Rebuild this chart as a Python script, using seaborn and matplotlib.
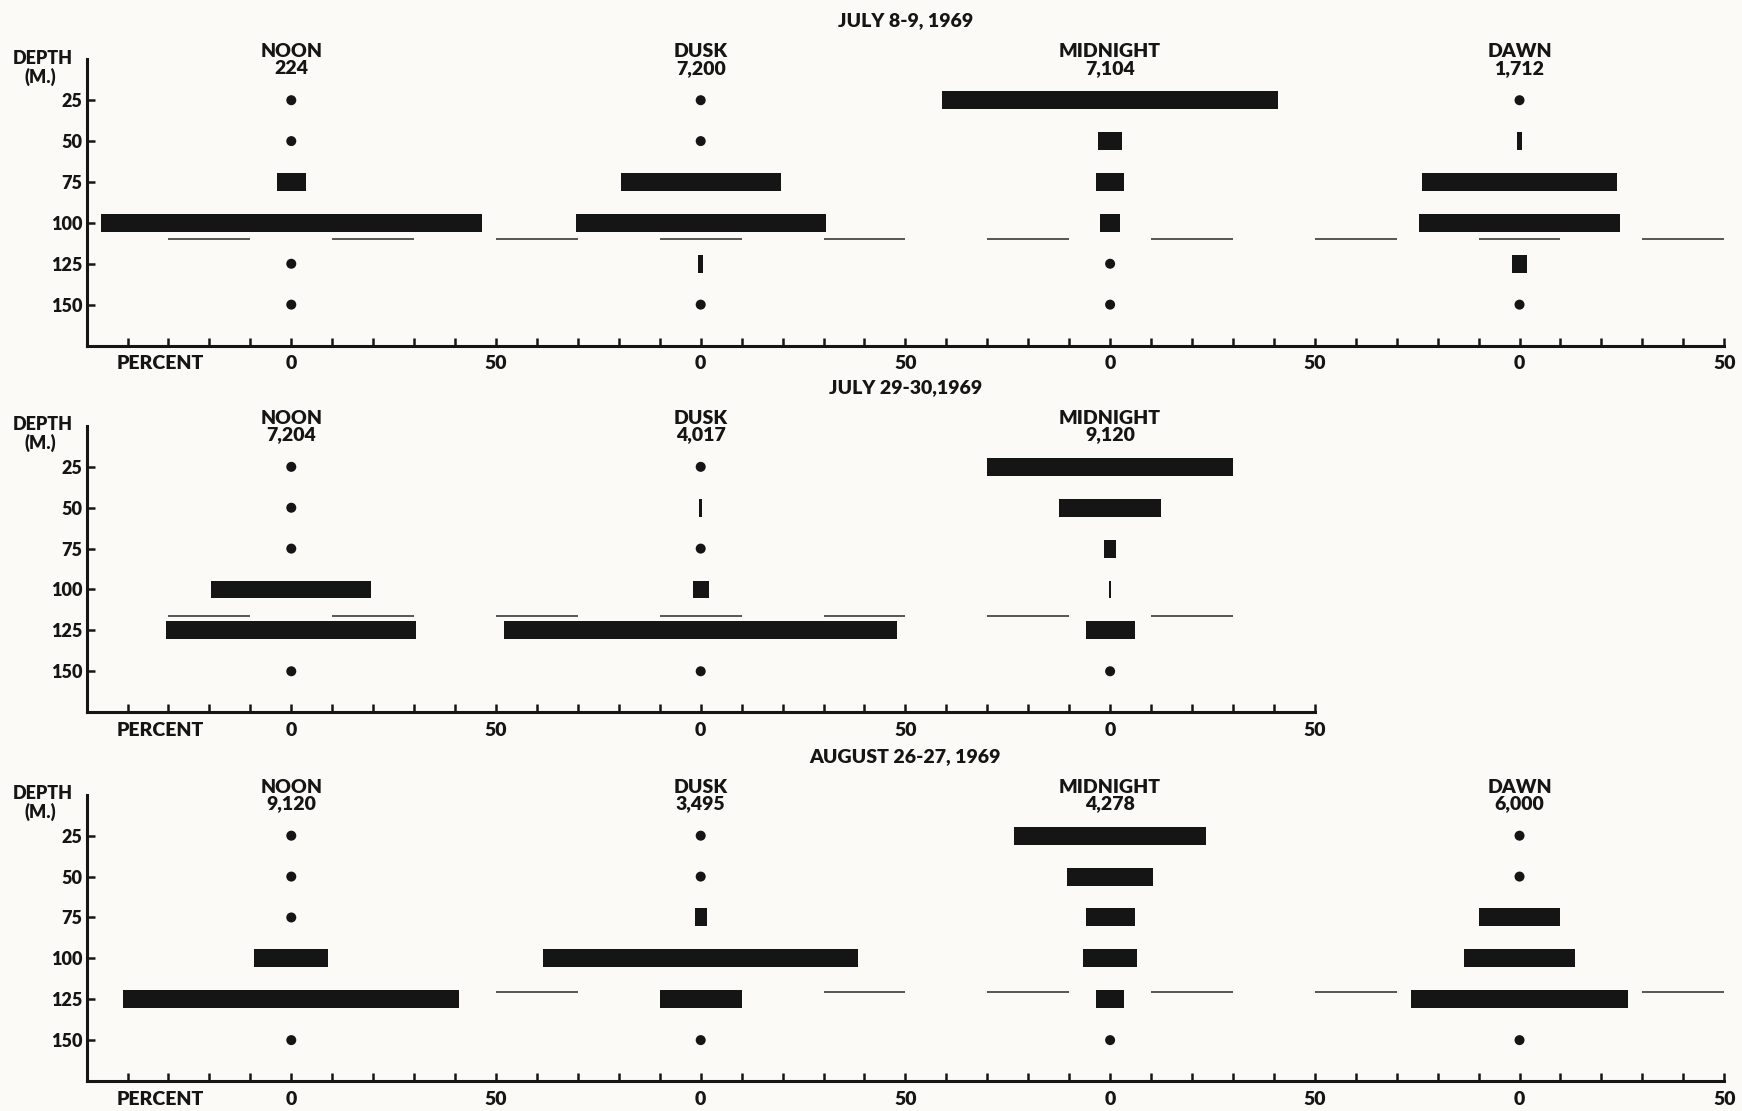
import numpy as np
import pandas as pd
import matplotlib
matplotlib.use("Agg")
import matplotlib.pyplot as plt
import seaborn as sns

# ---------------- data ----------------
depths = [25, 50, 75, 100, 125, 150]

dates = ["JULY 8-9, 1969", "JULY 29-30,1969", "AUGUST 26-27, 1969"]

jul8_periods = ["NOON", "DUSK", "MIDNIGHT", "DAWN"]
jul8_counts = ["224", "7,200", "7,104", "1,712"]
jul8_noon = [0, 0, 7, 93, 0, 0]
jul8_dusk = [0, 0, 39, 61, 1.3, 0]
jul8_midnight = [82, 6, 7, 5, 0, 0]
jul8_dawn = [0, 1.2, 47.5, 49, 3.5, 0]

jul29_periods = ["NOON", "DUSK", "MIDNIGHT"]
jul29_counts = ["7,204", "4,017", "9,120"]
jul29_noon = [0, 0, 0, 39, 61, 0]
jul29_dusk = [0, 0.6, 0, 4, 96, 0]
jul29_midnight = [60, 25, 3, 0.6, 12, 0]

aug26_periods = ["NOON", "DUSK", "MIDNIGHT", "DAWN"]
aug26_counts = ["9,120", "3,495", "4,278", "6,000"]
aug26_noon = [0, 0, 0, 18, 82, 0]
aug26_dusk = [0, 0, 3, 77, 20, 0]
aug26_midnight = [47, 21, 12, 13, 7, 0]
aug26_dawn = [0, 0, 20, 27, 53, 0]

thermocline_depth = [110, 116, 120.5]

panels = [
    (dates[0], jul8_periods, jul8_counts, [jul8_noon, jul8_dusk, jul8_midnight, jul8_dawn], thermocline_depth[0]),
    (dates[1], jul29_periods, jul29_counts, [jul29_noon, jul29_dusk, jul29_midnight], thermocline_depth[1]),
    (dates[2], aug26_periods, aug26_counts, [aug26_noon, aug26_dusk, aug26_midnight, aug26_dawn], thermocline_depth[2]),
]

# ---------------- style ----------------
PAPER = "#fbfaf6"
INK = "#151515"

sns.set_theme(style="ticks")
plt.rcParams["font.family"] = ["Lato", "DejaVu Sans"]
plt.rcParams["font.weight"] = "heavy"

fig = plt.figure(figsize=(17.42, 11.11), dpi=100, facecolor=PAPER)

left = 0.0497
full_w = 0.9401
height = 0.2576
bottoms = [0.689, 0.359, 0.027]

for (date, periods, counts, values, thermo), bottom in zip(panels, bottoms):
    n = len(periods)
    xmax = 100 * n
    ax = fig.add_axes([left, bottom, full_w * n / 4, height])
    ax.set_facecolor(PAPER)
    ax.set_xlim(0, xmax)
    ax.set_ylim(175, 0)

    # thermocline dashed marker (dash 20 on / 20 off)
    starts = np.arange(20, xmax, 40)
    ax.hlines([thermo] * len(starts), starts, starts + 20, color="#2a2a2a", lw=1.1, zorder=1)

    zero_rows = []
    for i, (name, count, vals) in enumerate(zip(periods, counts, values)):
        center = 50 + 100 * i
        v = np.array(vals, dtype=float)
        d = np.array(depths, dtype=float)
        m = v > 0
        ax.barh(d[m], v[m], left=center - v[m] / 2, height=11, color=INK,
                edgecolor="none", zorder=3)
        for dd in d[~m]:
            zero_rows.append({"x": center, "depth": dd})
        ax.text(center, -4.6, name, ha="center", va="center", fontsize=14, color=INK,
                fontweight="heavy")
        ax.text(center, 5.4, count, ha="center", va="center", fontsize=14, color=INK,
                fontweight="heavy")

    zdf = pd.DataFrame(zero_rows)
    sns.scatterplot(data=zdf, x="x", y="depth", color=INK, s=52, edgecolor="none",
                    legend=False, ax=ax, zorder=4)

    ax.text(200, -23.5, date, ha="center", va="center", fontsize=14, color=INK,
            clip_on=False, fontweight="heavy")
    ax.text(-10.8, -0.8, "DEPTH", ha="center", va="center", fontsize=13, color=INK,
            clip_on=False, fontweight="heavy")
    ax.text(-11.4, 10.5, "(M.)", ha="center", va="center", fontsize=13, color=INK,
            clip_on=False, fontweight="heavy")

    # axes styling
    for s in ["top", "right"]:
        ax.spines[s].set_visible(False)
    for s in ["left", "bottom"]:
        ax.spines[s].set_linewidth(2.2)
        ax.spines[s].set_color(INK)

    xt = np.arange(10, xmax + 1, 10)
    labels = []
    for t in xt:
        if t % 100 == 50:
            labels.append("0")
        elif t % 100 == 0:
            labels.append("50")
        else:
            labels.append("")
    ax.set_xticks(xt, labels)
    ax.set_xticks([18], ["PERCENT"], minor=True)
    ax.tick_params(axis="x", which="major", direction="in", length=6, width=1.8,
                   color=INK, labelsize=14, pad=7, labelcolor=INK)
    ax.tick_params(axis="x", which="minor", length=0, labelsize=14, pad=7, labelcolor=INK)

    ax.set_yticks(depths, [str(d) for d in depths])
    ax.tick_params(axis="y", direction="in", length=6, width=1.8, color=INK,
                   labelsize=13, pad=3, labelcolor=INK)
    for lab in ax.get_xticklabels(which="both") + ax.get_yticklabels():
        lab.set_fontweight("heavy")
    ax.set_xlabel("")
    ax.set_ylabel("")

fig.savefig("out.png", dpi=100, facecolor=PAPER)
